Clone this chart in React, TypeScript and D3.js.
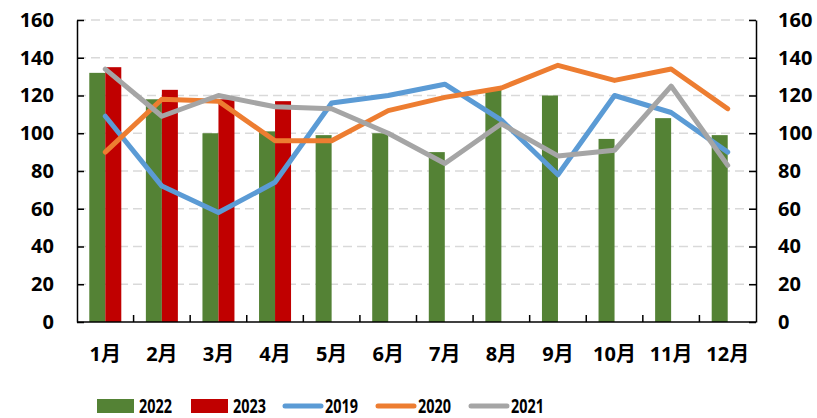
import React, { useEffect, useRef } from "react";
import * as d3 from "d3";

// months along the x axis
const months = ["1月", "2月", "3月", "4月", "5月", "6月", "7月", "8月", "9月", "10月", "11月", "12月"];

// bar series
const s2022 = [132, 118, 100, 101, 99, 100, 90, 123, 120, 97, 108, 99];
const s2023 = [135, 123, 118, 117];

// line series
const s2019 = [109, 72, 58, 74, 116, 120, 126, 107, 78, 120, 111, 90];
const s2020 = [90, 118, 117, 96, 96, 112, 119, 124, 136, 128, 134, 113];
const s2021 = [134, 109, 120, 114, 113, 100, 84, 105, 88, 91, 125, 83];

const yTicks = [0, 20, 40, 60, 80, 100, 120, 140, 160];

const colors: Record<string, string> = {
    "2022": "#548235",
    "2023": "#C00000",
    "2019": "#5B9BD5",
    "2020": "#ED7D31",
    "2021": "#A5A5A5",
};

const FONT = '"Noto Sans", "Noto Sans CJK SC", sans-serif';

const App = () => {
    const svgRef = useRef<SVGSVGElement>(null);

    useEffect(() => {
        const svg = d3.select(svgRef.current);
        svg.selectAll("*").remove();

        const left = 77;
        const right = 756;
        const top = 20;
        const bottom = 322;

        const x = d3.scaleBand().domain(months).range([left, right]).padding(0);
        const bw = x.bandwidth();
        const xBar = d3.scaleBand().domain(["2022", "2023"]).range([bw / 2 - 16, bw / 2 + 16]);
        const y = d3.scaleLinear().domain([0, 160]).range([bottom, top]);

        // dashed grid
        svg.append("g")
            .selectAll("line")
            .data(yTicks.filter((t) => t > 0))
            .enter()
            .append("line")
            .attr("x1", left)
            .attr("x2", right)
            .attr("y1", (d) => y(d))
            .attr("y2", (d) => y(d))
            .attr("stroke", "#d9d9d9")
            .attr("stroke-width", 1.5)
            .attr("stroke-dasharray", "9,5");

        // bars
        const barSeries = [
            { key: "2022", values: s2022 },
            { key: "2023", values: s2023 },
        ];
        barSeries.forEach((s) => {
            svg.append("g")
                .selectAll("rect")
                .data(s.values)
                .enter()
                .append("rect")
                .attr("x", (d, i) => (x(months[i]) as number) + (xBar(s.key) as number))
                .attr("y", (d) => y(d))
                .attr("width", xBar.bandwidth())
                .attr("height", (d) => y(0) - y(d))
                .attr("fill", colors[s.key]);
        });

        // lines
        const line = d3
            .line<number>()
            .x((d, i) => (x(months[i]) as number) + bw / 2)
            .y((d) => y(d));

        [
            { key: "2019", values: s2019 },
            { key: "2020", values: s2020 },
            { key: "2021", values: s2021 },
        ].forEach((s) => {
            svg.append("path")
                .datum(s.values)
                .attr("d", line)
                .attr("fill", "none")
                .attr("stroke", colors[s.key])
                .attr("stroke-width", 5)
                .attr("stroke-linejoin", "round")
                .attr("stroke-linecap", "round");
        });

        // axes
        const styleAxis = (g: any) => {
            g.select(".domain").attr("stroke", "#000").attr("stroke-width", 1.5);
            g.selectAll(".tick line").attr("stroke", "#000").attr("stroke-width", 1.5);
            g.selectAll("text")
                .attr("font-family", FONT)
                .attr("font-weight", "bold")
                .attr("font-size", 20)
                .attr("fill", "#000");
        };

        svg.append("g")
            .attr("transform", `translate(${left},0)`)
            .call(d3.axisLeft(y).tickValues(yTicks).tickSize(-7).tickSizeOuter(0).tickPadding(23))
            .call(styleAxis);

        svg.append("g")
            .attr("transform", `translate(${right},0)`)
            .call(d3.axisRight(y).tickValues(yTicks).tickSize(-7).tickSizeOuter(0).tickPadding(22))
            .call(styleAxis);

        // x axis: ticks between categories, pointing up
        const xAxis = svg.append("g").attr("transform", `translate(0,${bottom})`);
        xAxis.append("line")
            .attr("x1", left)
            .attr("x2", right)
            .attr("stroke", "#000")
            .attr("stroke-width", 1.5);
        xAxis.selectAll(".sep")
            .data(months.slice(1))
            .enter()
            .append("line")
            .attr("x1", (d) => x(d) as number)
            .attr("x2", (d) => x(d) as number)
            .attr("y1", 0)
            .attr("y2", -7)
            .attr("stroke", "#000")
            .attr("stroke-width", 1.5);
        xAxis.selectAll("text")
            .data(months)
            .enter()
            .append("text")
            .attr("x", (d) => (x(d) as number) + bw / 2)
            .attr("y", 39)
            .attr("text-anchor", "middle")
            .attr("font-family", FONT)
            .attr("font-weight", "bold")
            .attr("font-size", 20)
            .text((d) => d);

        // legend
        const legendItems = [
            { key: "2022", type: "rect", x: 97 },
            { key: "2023", type: "rect", x: 191 },
            { key: "2019", type: "line", x: 283 },
            { key: "2020", type: "line", x: 376 },
            { key: "2021", type: "line", x: 469 },
        ];
        const legend = svg.selectAll(".legend")
            .data(legendItems)
            .enter()
            .append("g")
            .attr("class", "legend")
            .attr("transform", (d) => `translate(${d.x},406)`);

        legend.filter((d) => d.type === "rect")
            .append("rect")
            .attr("x", 0)
            .attr("y", -7)
            .attr("width", 37)
            .attr("height", 14)
            .attr("fill", (d) => colors[d.key]);

        legend.filter((d) => d.type === "line")
            .append("line")
            .attr("x1", 2)
            .attr("x2", 38)
            .attr("y1", 0)
            .attr("y2", 0)
            .attr("stroke", (d) => colors[d.key])
            .attr("stroke-width", 5)
            .attr("stroke-linecap", "round");

        legend.append("text")
            .attr("x", 42)
            .attr("y", 6.5)
            .attr("font-family", FONT)
            .attr("font-weight", "bold")
            .attr("font-size", 19)
            .attr("textLength", 33)
            .attr("lengthAdjust", "spacingAndGlyphs")
            .text((d) => d.key);
    }, []);

    return (
        <svg
            ref={svgRef}
            width={817}
            height={418}
            style={{ position: "absolute", left: 0, top: 0, background: "#fff" }}
        ></svg>
    );
};

export default App;
